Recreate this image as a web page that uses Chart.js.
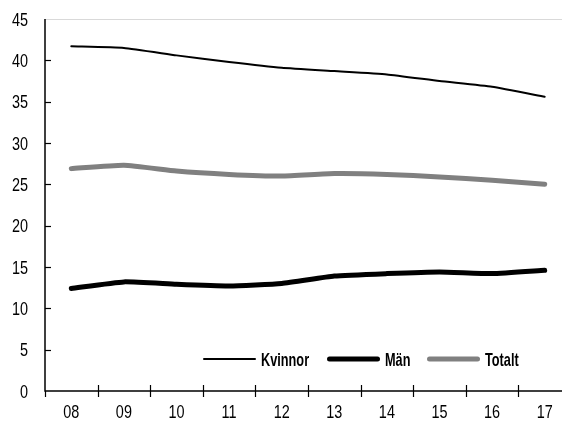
<!DOCTYPE html>
<html>
<head>
<meta charset="utf-8">
<script src="https://cdn.jsdelivr.net/npm/chart.js@4"></script>
<style>
  html, body { margin: 0; padding: 0; background: #fff; overflow: hidden; }
  #wrap { width: 575px; height: 421px; position: relative; }
</style>
</head>
<body>
<div id="wrap"><canvas id="chart"></canvas></div>
<script>
const years = ["08", "09", "10", "11", "12", "13", "14", "15", "16", "17"];
const kvinnor = [41.7, 41.5, 40.6, 39.8, 39.1, 38.7, 38.3, 37.5, 36.8, 35.6];
const man = [12.4, 13.2, 12.9, 12.7, 13.0, 13.9, 14.2, 14.4, 14.2, 14.6];
const totalt = [26.9, 27.3, 26.6, 26.2, 26.0, 26.3, 26.2, 25.9, 25.5, 25.0];
const yTicks = [0, 5, 10, 15, 20, 25, 30, 35, 40, 45];

const fontFam = "'Liberation Sans', Arial, sans-serif";
// no condensed font installed, so text is narrowed by hand

function narrowText(c, txt, x, y, align, squeeze) {
  const w = c.measureText(txt).width * squeeze;
  let left = x;
  if (align === "right") left = x - w;
  else if (align === "center") left = x - w / 2;
  c.save();
  c.translate(left, y);
  c.scale(squeeze, 1);
  c.textAlign = "left";
  c.fillText(txt, 0, 0);
  c.restore();
}

// axes, tick marks, tick labels, top frame line and legend
const extras = {
  id: "extras",
  afterDatasetsDraw(chart) {
    const c = chart.ctx;
    const a = chart.chartArea;
    const x = chart.scales.x;
    const y = chart.scales.y;
    c.save();
    // top light line
    c.strokeStyle = "#d9d9d9";
    c.lineWidth = 1;
    c.beginPath();
    c.moveTo(a.left, a.top + 0.5);
    c.lineTo(a.right, a.top + 0.5);
    c.stroke();
    // y ticks inside
    c.strokeStyle = "#000";
    c.lineWidth = 1.2;
    yTicks.forEach(v => {
      if (v === 0 || v === 45) return;
      const py = Math.round(y.getPixelForValue(v)) + 0.5;
      c.beginPath();
      c.moveTo(a.left, py);
      c.lineTo(a.left + 6, py);
      c.stroke();
    });
    // x ticks between categories
    const step = x.getPixelForTick(1) - x.getPixelForTick(0);
    for (let i = 0; i <= years.length; i++) {
      let px = i === 0 ? a.left : x.getPixelForTick(i - 1) + step / 2;
      px = Math.round(px) + 0.5;
      c.beginPath();
      c.moveTo(px, a.bottom - (i === 0 ? 0 : 6));
      c.lineTo(px, a.bottom + 6);
      c.stroke();
    }
    // axes
    c.lineWidth = 1.5;
    c.beginPath();
    c.moveTo(a.left, a.top);
    c.lineTo(a.left, a.bottom);
    c.lineTo(a.right, a.bottom);
    c.stroke();

    // tick labels
    c.fillStyle = "#000";
    c.font = "18.5px " + fontFam;
    c.textBaseline = "alphabetic";
    yTicks.forEach(v => {
      narrowText(c, String(v), 28, y.getPixelForValue(v) + 6.7, "right", 0.78);
    });
    years.forEach((lab, i) => {
      narrowText(c, lab, x.getPixelForTick(i), a.bottom + 27, "center", 0.78);
    });

    // legend
    const legX = [203, 327, 427];
    const ly = 359;
    c.font = "bold 19px " + fontFam;
    chart.data.datasets.forEach((ds, i) => {
      c.strokeStyle = ds.borderColor;
      c.lineWidth = ds.borderWidth;
      c.lineCap = "round";
      c.beginPath();
      c.moveTo(legX[i] + ds.borderWidth / 2, ly);
      c.lineTo(legX[i] + 53 - ds.borderWidth / 2, ly);
      c.stroke();
      c.fillStyle = "#000";
      narrowText(c, ds.label, legX[i] + 58, ly + 6.5, "left", 0.67);
    });
    c.restore();
  }
};

new Chart(document.getElementById("chart"), {
  type: "line",
  data: {
    labels: years,
    datasets: [
      { label: "Kvinnor", data: kvinnor, borderColor: "#000", borderWidth: 2, pointRadius: 0, borderCapStyle: "round", borderJoinStyle: "round", tension: 0.15 },
      { label: "Män", data: man, borderColor: "#000", borderWidth: 5, pointRadius: 0, borderCapStyle: "round", borderJoinStyle: "round", tension: 0.15 },
      { label: "Totalt", data: totalt, borderColor: "#808080", borderWidth: 5, pointRadius: 0, borderCapStyle: "round", borderJoinStyle: "round", tension: 0.15 }
    ]
  },
  options: {
    responsive: true,
    maintainAspectRatio: false,
    animation: false,
    layout: { padding: { top: 19, left: 0, right: 4, bottom: 0 } },
    plugins: { legend: { display: false }, tooltip: { enabled: false } },
    scales: {
      x: {
        offset: true,
        grid: { display: false, offset: true },
        border: { display: false },
        ticks: { display: false },
        afterFit(s) { s.height = 30; }
      },
      y: {
        min: 0,
        max: 45,
        grid: { display: false, drawTicks: false },
        border: { display: false },
        afterBuildTicks(s) { s.ticks = yTicks.map(v => ({ value: v })); },
        ticks: { display: false },
        afterFit(s) { s.width = 45; }
      }
    }
  },
  plugins: [extras]
});
</script>
</body>
</html>
